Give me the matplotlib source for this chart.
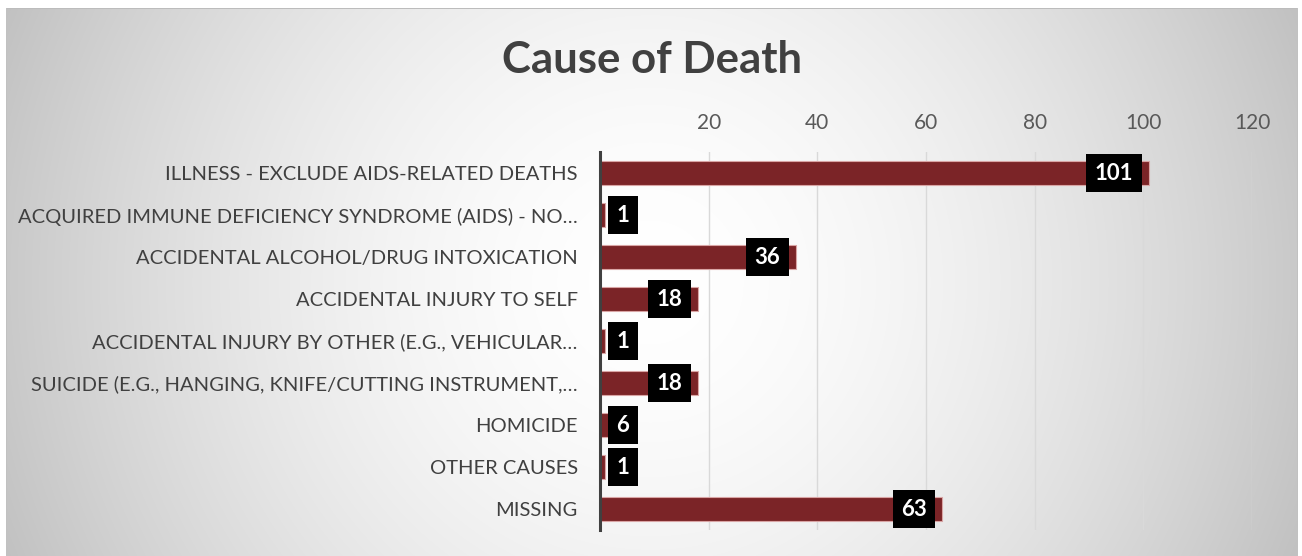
import numpy as np
import matplotlib
matplotlib.use('Agg')
import matplotlib.pyplot as plt

categories = [
    "ILLNESS - EXCLUDE AIDS-RELATED DEATHS",
    "ACQUIRED IMMUNE DEFICIENCY SYNDROME (AIDS) - NO\u2026",
    "ACCIDENTAL ALCOHOL/DRUG INTOXICATION",
    "ACCIDENTAL INJURY TO SELF",
    "ACCIDENTAL INJURY BY OTHER (E.G., VEHICULAR\u2026",
    "SUICIDE (E.G., HANGING, KNIFE/CUTTING INSTRUMENT,\u2026",
    "HOMICIDE",
    "OTHER CAUSES",
    "MISSING",
]
values = [101, 1, 36, 18, 1, 18, 6, 1, 63]
xticks = [20, 40, 60, 80, 100, 120]
title = "Cause of Death"

plt.rcParams['font.family'] = ['Lato', 'DejaVu Sans']

W, H, DPI = 1302, 556, 100
fig = plt.figure(figsize=(W / DPI, H / DPI), dpi=DPI)

# radial gradient background with white outer margin
yy, xx = np.mgrid[0:H, 0:W]
r = np.hypot(xx - 650, yy - 282) / 702
g = 255 - 62 * np.clip(r, 0, 1) ** 1.7
img = np.stack([g, g, g], -1) / 255.0
img[:8, :] = 1.0
img[:, :6] = 1.0
img[:, 1298:] = 1.0
img[8, 6:1298] = 0.74
img[8:, 6] = 0.76
img[8:, 1297] = 0.76
fig.figimage(img, xo=0, yo=0, origin='upper', zorder=-10)

ax = fig.add_axes([600 / W, (H - 530) / H, 652 / W, 378 / H])
ax.set_zorder(2)
ax.patch.set_alpha(0)

ypos = np.arange(len(categories))
ax.barh(ypos, values, height=0.58, color='#7B2427', edgecolor='#D9A5A5',
        linewidth=0.8, zorder=3)
ax.set_xlim(0, 120)
ax.set_ylim(len(categories) - 0.5, -0.5)

ax.xaxis.tick_top()
ax.set_xticks(xticks)
ax.tick_params(axis='x', length=0, pad=14, labelsize=15, labelcolor='#595959')
ax.grid(axis='x', color='#D9D9D9', linewidth=1, zorder=0)
ax.set_axisbelow(True)

ax.set_yticks(ypos, categories)
ax.tick_params(axis='y', length=0, pad=16, labelsize=14.5, labelcolor='#404040')

for s in ['top', 'right', 'bottom']:
    ax.spines[s].set_visible(False)
ax.spines['left'].set_color('#404040')
ax.spines['left'].set_linewidth(2.2)
ax.spines['left'].set_zorder(4)

fig.text(652 / W, 1 - 60 / H, title, ha='center', va='center', fontsize=31.5,
         fontweight='bold', color='#404040', zorder=3)

px = 72.0 / DPI
labels = []
for i, v in enumerate(values):
    t = ax.annotate(str(v), xy=(v, i), xytext=(-15.5 * px, 0),
                    textcoords='offset points', ha='right', va='center',
                    color='white', fontweight='bold', fontsize=16,
                    bbox=dict(boxstyle='square,pad=0.38', fc='black', ec='none'),
                    zorder=5)
    labels.append((t, i))

fig.canvas.draw()
axleft = ax.get_window_extent().x0
for t, i in labels:
    ext = t.get_bbox_patch().get_window_extent()
    if ext.x0 < axleft + 8:
        t.xy = (0, i)
        t.set_position((16.5 * px, 0))
        t.set_ha('left')

fig.savefig('out.png', dpi=DPI)
